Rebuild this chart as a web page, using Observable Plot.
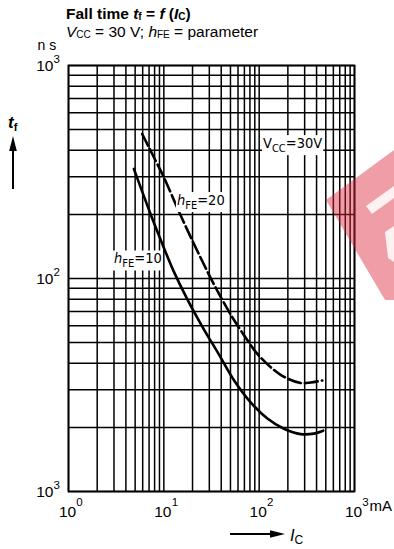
<!DOCTYPE html>
<html><head><meta charset="utf-8">
<script src="https://cdn.jsdelivr.net/npm/d3@7"></script>
<script src="https://cdn.jsdelivr.net/npm/@observablehq/plot@0.6"></script>
<style>
html,body{margin:0;padding:0;background:#fff;}
#wrap{position:relative;width:394px;height:549px;overflow:hidden;font-family:"Liberation Sans",Arial,sans-serif;color:#000;}
#chart{position:absolute;left:0;top:0;}
.ttl{position:absolute;left:66px;white-space:nowrap;font-size:15.5px;line-height:16px;}
#title{top:6px;font-weight:bold;}
#subtitle{top:24px;}
.ttl sub{font-size:10px;vertical-align:-1px;line-height:0;}
</style></head><body>
<div id="wrap">
<div id="chart"></div>
<div id="title" class="ttl">Fall time <i>t</i><sub>f</sub> = <i>f</i> (<i>I</i><sub>C</sub>)</div>
<div id="subtitle" class="ttl"><i>V</i><sub>CC</sub> = 30 V; <i>h</i><sub>FE</sub> = parameter</div>
</div>
<script>
// ---- data (collector current in mA, fall time in ns) ----
const icHfe10 = [4.85, 7.25, 9.6, 12.7, 17.6, 25.3, 37.8, 54, 81, 122, 182, 272, 375, 470];
const tfHfe10 = [327, 201, 146, 108, 80, 59.5, 44, 33.5, 26.3, 22.0, 19.7, 18.6, 18.7, 19.3];
const icHfe20 = [5.93, 8.18, 10.0, 15.0, 22.4, 33.5, 50, 75, 99, 168, 272, 346, 459];
const tfHfe20 = [477, 358, 299, 198, 135, 94, 68, 51.5, 43.5, 35.3, 32.3, 32.5, 33.2];
const xTicks = [1, 10, 100, 1000];
const xTickExponents = ["0", "1", "2", "3"];
const yTicks = [10, 100, 1000];
const yTickExponents = ["3", "2", "3"];
const tickBase = "10";
const gridMultipliers = [1, 2, 3, 4, 5, 6, 7, 8, 9];
const xDecades = [1, 10, 100];
const yDecades = [10, 100];

const xGrid = xDecades.flatMap(d => gridMultipliers.map(m => m * d)).concat([1000]);
const yGrid = yDecades.flatMap(d => gridMultipliers.map(m => m * d)).concat([1000]);
const s10 = icHfe10.map((ic, i) => ({ic, tf: tfHfe10[i]}));
const s20 = icHfe20.map((ic, i) => ({ic, tf: tfHfe20[i]}));
const xExp = xTicks.map((v, i) => ({v, e: xTickExponents[i]}));
const yExp = yTicks.map((v, i) => ({v, e: yTickExponents[i]}));

const ink = "#000";
const chart = Plot.plot({
  width: 394, height: 549,
  marginLeft: 68, marginRight: 40, marginTop: 65, marginBottom: 58,
  style: {fontFamily: "'Liberation Sans', Arial, sans-serif", fontSize: "15px", color: "#000", background: "transparent", overflow: "visible"},
  x: {type: "log", domain: [1, 1000]},
  y: {type: "log", domain: [10, 1000]},
  marks: [
    Plot.gridX(xGrid, {stroke: ink, strokeOpacity: 1, strokeWidth: 1.5}),
    Plot.gridY(yGrid, {stroke: ink, strokeOpacity: 1, strokeWidth: 1.5}),
    Plot.frame({stroke: ink, strokeWidth: 1.8}),
    Plot.axisX(xTicks, {tickSize: 0, tickPadding: 14, tickFormat: () => tickBase, fontSize: 15.5, label: null, dx: -1}),
    Plot.text(xExp, {x: "v", text: "e", frameAnchor: "bottom", dy: 14, dx: 11, fontSize: 11.5}),
    Plot.axisY(yTicks, {tickSize: 0, tickPadding: 15, tickFormat: () => tickBase, fontSize: 15.5, label: null, dy: 1}),
    Plot.text(yExp, {y: "v", text: "e", frameAnchor: "left", dx: -15, dy: -6, textAnchor: "start", fontSize: 11.5}),
    Plot.text(["mA"], {x: () => 1000, frameAnchor: "bottom", dy: 19, dx: 15, textAnchor: "start", text: d => d, fontSize: 15}),
    Plot.text(["n s"], {frameAnchor: "top-left", dx: -31, dy: -25, textAnchor: "start", text: d => d, fontSize: 14}),
    Plot.line(s10, {x: "ic", y: "tf", stroke: ink, strokeWidth: 2.6, curve: "catmull-rom"}),
    Plot.line(s20, {x: "ic", y: "tf", stroke: ink, strokeWidth: 2.6, strokeDasharray: "13,4", curve: "catmull-rom"})
  ]
});
document.getElementById("chart").appendChild(chart);

const svg = d3.select(chart);
const sx = chart.scale("x"), sy = chart.scale("y");
const cond = "'Liberation Sans Narrow','DejaVu Sans Condensed','Liberation Sans',sans-serif";

function label(xv, yv, parts) {
  const g = svg.append("g");
  const rect = g.append("rect").attr("fill", "#fff");
  const t = g.append("text").attr("x", sx.apply(xv)).attr("y", sy.apply(yv))
    .attr("text-anchor", "start")
    .attr("font-family", cond).attr("font-size", 14.5).attr("fill", "#000");
  parts.forEach(p => {
    const ts = t.append("tspan").text(p.t);
    if (p.i) ts.attr("font-style", "italic");
    if (p.sub) ts.attr("font-size", 11).attr("dy", 4);
    if (p.up) ts.attr("dy", -4);
  });
  const b = t.node().getBBox();
  rect.attr("x", b.x - 1).attr("y", b.y).attr("width", b.width + 2).attr("height", b.height);
}
label(111, 407, [{t: "V"}, {t: "CC", sub: true}, {t: "=30V", up: true}]);
label(13.9, 220, [{t: "h", i: true}, {t: "FE", sub: true}, {t: "=20", up: true}]);
label(3.04, 117, [{t: "h", i: true}, {t: "FE", sub: true}, {t: "=10", up: true}]);

// axis quantity arrows and names
svg.append("line").attr("x1", 13).attr("y1", 189).attr("x2", 13).attr("y2", 146)
  .attr("stroke", "#000").attr("stroke-width", 2);
svg.append("path").attr("d", "M13,136 L9.2,151 L16.8,151 Z").attr("fill", "#000");
svg.append("line").attr("x1", 230).attr("y1", 534).attr("x2", 274).attr("y2", 534)
  .attr("stroke", "#000").attr("stroke-width", 2);
svg.append("path").attr("d", "M285,534 L270,530.2 L270,537.8 Z").attr("fill", "#000");
const tf = svg.append("text").attr("x", 8).attr("y", 128).attr("text-anchor", "start")
  .attr("font-size", 17).attr("font-family", "'Liberation Sans',Arial,sans-serif").attr("font-weight", "bold");
tf.append("tspan").text("t").attr("font-style", "italic");
tf.append("tspan").text("f").attr("font-size", 11).attr("dy", 3);
const ic = svg.append("text").attr("x", 290).attr("y", 541).attr("text-anchor", "start")
  .attr("font-size", 16.5).attr("font-family", "'Liberation Sans',Arial,sans-serif");
ic.append("tspan").text("I").attr("font-style", "italic");
ic.append("tspan").text("C").attr("font-size", 12).attr("dy", 3);

// watermark (decorative)
const wm = svg.append("g");
wm.append("path").attr("d", "M326,200 L394,150 L394,300 L385,300 Z").attr("fill", "rgb(220,40,60)").attr("fill-opacity", 0.45);
wm.append("path").attr("d", "M366,206 L394,186 L394,198 L372,214 Z").attr("fill", "#fff").attr("fill-opacity", 0.85);
wm.append("path").attr("d", "M385,232 L394,226 L394,262 L388,258 Z").attr("fill", "#fff").attr("fill-opacity", 0.85);
</script>
</body></html>
